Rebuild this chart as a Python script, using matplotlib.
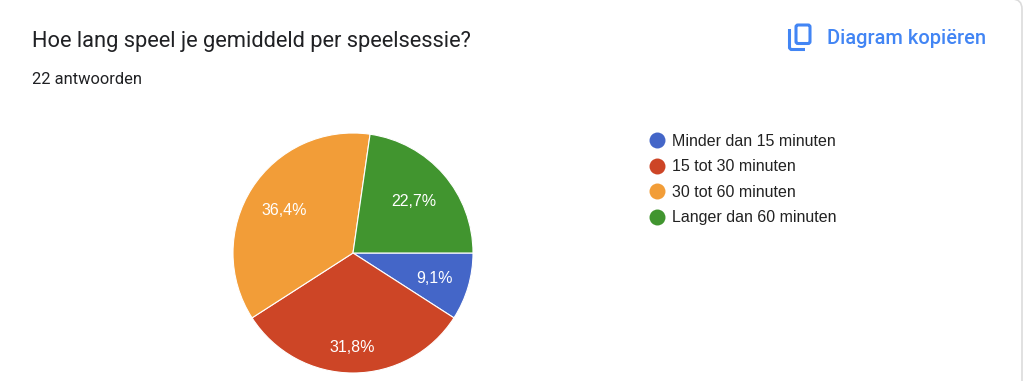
import matplotlib
matplotlib.use("Agg")
import matplotlib.pyplot as plt
from matplotlib.lines import Line2D
from matplotlib.patches import FancyBboxPatch

categories = ["Minder dan 15 minuten", "15 tot 30 minuten", "30 tot 60 minuten", "Langer dan 60 minuten"]
values = [2, 7, 8, 5]
colors = ["#4466c8", "#cd4526", "#f29d38", "#41952f"]
title = "Hoe lang speel je gemiddeld per speelsessie?"
subtitle = "22 antwoorden"
action = "Diagram kopiëren"
label_radial = [0.71, 0.775, 0.68, 0.68]

W, H = 1024, 381
plt.rcParams["font.family"] = ["Roboto", "DejaVu Sans"]
fig = plt.figure(figsize=(W / 100, H / 100), dpi=100, facecolor="white")
ax = fig.add_axes([0, 0, 1, 1])
ax.set_xlim(0, W)
ax.set_ylim(0, H)
ax.axis("off")

def Y(py):
    return H - py

# card outline
ax.add_patch(FancyBboxPatch((-12, -20), 12 + 1022, H + 20 + 1, boxstyle="round,pad=0,rounding_size=10",
                            fc="white", ec="#dcdcdc", lw=1.2, zorder=0))

ax.text(32, Y(41), title, fontsize=15.78, color="#202124", va="center", ha="left")
ax.text(32, Y(79), subtitle, fontsize=11.9, color="#202124", va="center", ha="left")
ax.text(827, Y(38), action, fontsize=14.4, color="#4285f4", va="center", ha="left", fontweight="medium")

# copy icon
blue = "#4285f4"
ax.add_patch(FancyBboxPatch((796, Y(43.5)), 14, 18.5, boxstyle="round,pad=0,rounding_size=2",
                            fc="none", ec=blue, lw=2.2, zorder=3))
ax.plot([789.5, 789.5, 791, 805], [Y(29), Y(48), Y(49.5), Y(49.5)], color=blue, lw=2.2, solid_capstyle="butt", zorder=3)

cx, cy = 353, Y(253)
wedges, texts, autotexts = ax.pie(
    values, colors=colors, startangle=0, counterclock=False,
    center=(cx, cy), radius=120, frame=True,
    autopct=lambda p: f"{p:.1f}%".replace(".", ","), pctdistance=0.68,
    wedgeprops={"edgecolor": "white", "linewidth": 0.8},
    textprops={"fontsize": 11.5, "color": "white", "family": "Liberation Sans"},
)
for at, r in zip(autotexts, label_radial):
    x, y = at.get_position()
    f = r / 0.68
    at.set_position((cx + (x - cx) * f - 0.5, cy + (y - cy) * f - 1.5))
ax.set_xlim(0, W)
ax.set_ylim(0, H)
ax.set_aspect("auto")
ax.axis("off")

handles = [Line2D([], [], ls="none", marker="o", ms=11.5, mfc=c, mec=c, mew=0) for c in colors]
ax.legend(handles, categories, loc="upper left", bbox_to_anchor=(642 / W, 1 - 134 / H),
          frameon=False, prop={"family": "Liberation Sans", "size": 11.5}, labelcolor="#222222",
          labelspacing=0.65, handletextpad=0.0, borderpad=0, borderaxespad=0, handlelength=1.875)

fig.savefig("out.png", dpi=100)
